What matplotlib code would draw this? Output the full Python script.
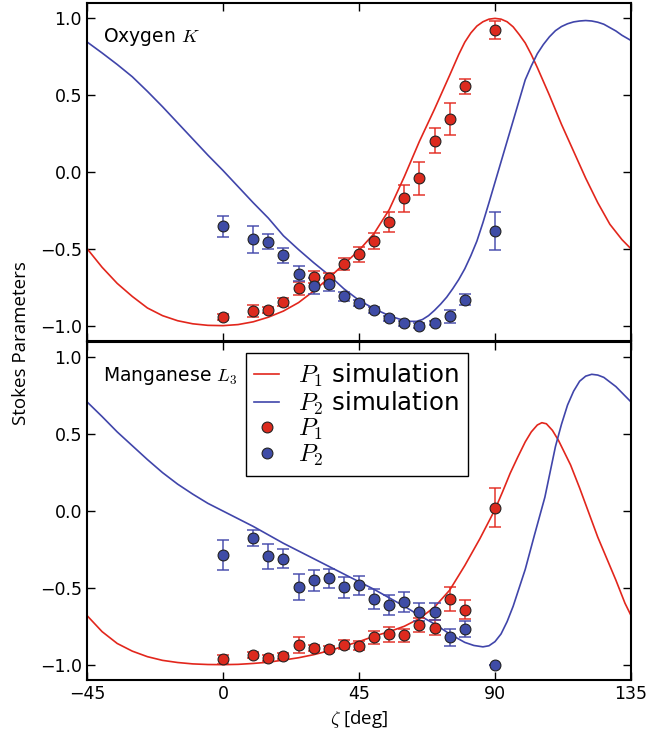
import numpy as np
import matplotlib
matplotlib.use("Agg")
from matplotlib import pyplot as plt

plt.rcParams['mathtext.fontset'] = 'cm'
plt.rcParams['font.family'] = ['DejaVu Sans']

# measured angles (deg)
zeta_data = [0, 10, 15, 20, 25, 30, 35, 40, 45, 50, 55, 60, 65, 70, 75, 80, 90]

# Oxygen K measurements
oxy_p1 = [-0.945, -0.905, -0.897, -0.845, -0.758, -0.684, -0.693, -0.60, -0.536, -0.45,
          -0.324, -0.171, -0.04, 0.204, 0.345, 0.558, 0.923]
oxy_p1_err = [0.02, 0.04, 0.02, 0.025, 0.045, 0.04, 0.035, 0.04, 0.05, 0.05,
              0.064, 0.088, 0.108, 0.08, 0.105, 0.05, 0.06]
oxy_p2 = [-0.352, -0.439, -0.454, -0.543, -0.662, -0.743, -0.732, -0.81, -0.853, -0.90,
          -0.953, -0.985, -1.0, -0.984, -0.94, -0.832, -0.385]
oxy_p2_err = [0.068, 0.085, 0.05, 0.05, 0.05, 0.05, 0.04, 0.03, 0.02, 0.02,
              0.015, 0.015, 0.015, 0.015, 0.04, 0.035, 0.125]

# Manganese L3 measurements
mn_p1 = [-0.964, -0.9375, -0.959, -0.942, -0.872, -0.894, -0.90, -0.87, -0.877, -0.823,
         -0.803, -0.81, -0.742, -0.76, -0.573, -0.642, 0.02]
mn_p1_err = [0.03, 0.02, 0.02, 0.02, 0.05, 0.02, 0.02, 0.03, 0.03, 0.045,
             0.05, 0.04, 0.048, 0.048, 0.078, 0.06, 0.127]
mn_p2 = [-0.286, -0.176, -0.295, -0.31, -0.495, -0.451, -0.438, -0.495, -0.484, -0.573,
         -0.61, -0.592, -0.657, -0.655, -0.823, -0.77, -1.003]
mn_p2_err = [0.097, 0.05, 0.083, 0.062, 0.087, 0.067, 0.062, 0.068, 0.062, 0.066,
             0.066, 0.064, 0.056, 0.055, 0.056, 0.052, 0.0]

# simulation curves
oxy_sim1_zeta = [-45, -40, -35, -30, -25, -20, -15, -10, -5, 0, 5, 10, 15, 20, 25, 30, 35, 40,
                 45, 50, 55, 60, 65, 70, 75, 78, 80, 82, 84, 86, 88, 90, 92, 94, 96, 98, 100,
                 102, 104, 108, 112, 116, 120, 124, 128, 132, 135]
oxy_sim1 = [-0.498, -0.62, -0.725, -0.81, -0.885, -0.935, -0.968, -0.988, -0.998, -1.0,
            -0.993, -0.975, -0.945, -0.905, -0.85, -0.775, -0.69, -0.60, -0.51, -0.40,
            -0.245, -0.03, 0.2, 0.41, 0.63, 0.765, 0.845, 0.905, 0.95, 0.978, 0.995, 1.0,
            0.995, 0.978, 0.945, 0.895, 0.84, 0.765, 0.68, 0.50, 0.31, 0.135, -0.04, -0.2,
            -0.34, -0.44, -0.5]
oxy_sim2_zeta = [-45, -40, -35, -30, -25, -20, -15, -10, -5, 0, 5, 10, 15, 20, 25, 30, 35, 40,
                 45, 50, 55, 58, 60, 62, 64, 66, 68, 70, 72, 74, 76, 78, 80, 82, 84, 86, 88,
                 91, 94, 97, 100, 102, 104, 106, 108, 110, 112, 114, 116, 118, 120, 122, 124,
                 126, 128, 130, 132, 135]
oxy_sim2 = [0.847, 0.775, 0.70, 0.62, 0.525, 0.425, 0.32, 0.215, 0.11, 0.01, -0.095, -0.2,
            -0.3, -0.415, -0.505, -0.59, -0.67, -0.76, -0.835, -0.89, -0.935, -0.955, -0.965,
            -0.972, -0.972, -0.96, -0.935, -0.9, -0.86, -0.815, -0.76, -0.70, -0.63, -0.545,
            -0.45, -0.33, -0.2, 0.0, 0.2, 0.4, 0.6, 0.69, 0.77, 0.83, 0.88, 0.92, 0.947,
            0.965, 0.977, 0.983, 0.986, 0.983, 0.975, 0.962, 0.94, 0.918, 0.89, 0.856]

mn_sim1_zeta = [-45, -40, -35, -30, -25, -20, -15, -10, -5, 0, 5, 10, 15, 20, 25, 30, 35, 40,
                45, 50, 55, 60, 65, 70, 75, 80, 85, 90, 92.5, 95, 97.5, 100, 102, 104, 105.5,
                107, 109, 111, 113, 115, 118, 121, 124, 127, 130, 133, 135]
mn_sim1 = [-0.68, -0.785, -0.862, -0.912, -0.948, -0.972, -0.986, -0.995, -0.999, -1.0,
           -0.998, -0.992, -0.984, -0.97, -0.955, -0.935, -0.91, -0.88, -0.85, -0.815,
           -0.785, -0.75, -0.70, -0.625, -0.515, -0.355, -0.18, 0.01, 0.125, 0.245, 0.35,
           0.45, 0.515, 0.56, 0.575, 0.568, 0.525, 0.46, 0.38, 0.3, 0.15, -0.01, -0.17,
           -0.31, -0.45, -0.6, -0.68]
mn_sim2_zeta = [-45, -40, -35, -30, -25, -20, -15, -10, -5, 0, 5, 10, 15, 20, 25, 30, 35, 40,
                45, 50, 55, 60, 65, 70, 75, 80, 83, 86, 88, 90, 92, 94, 96, 98, 100, 103,
                106.5, 110, 112, 114, 116, 118, 120, 122, 124, 126, 130, 135]
mn_sim2 = [0.711, 0.615, 0.515, 0.425, 0.335, 0.25, 0.175, 0.11, 0.05, 0.0, -0.05, -0.1,
           -0.155, -0.21, -0.26, -0.31, -0.36, -0.41, -0.46, -0.51, -0.565, -0.62, -0.68,
           -0.735, -0.8, -0.855, -0.875, -0.884, -0.877, -0.85, -0.8, -0.72, -0.62, -0.5,
           -0.38, -0.16, 0.09, 0.42, 0.565, 0.69, 0.78, 0.845, 0.878, 0.89, 0.885, 0.87,
           0.81, 0.71]

RED = '#e2261c'
BLUE = '#4045aa'
RED_PT = '#dc2a1e'
BLUE_PT = '#3f4ca6'

fig = plt.figure(figsize=(6.51, 7.37), dpi=100)
ax1 = fig.add_axes([0.1336, 0.5373, 0.8357, 0.4586])
ax2 = fig.add_axes([0.1336, 0.0773, 0.8357, 0.4586], sharex=ax1)

panels = [
    (ax1, oxy_sim1_zeta, oxy_sim1, oxy_sim2_zeta, oxy_sim2, oxy_p1, oxy_p1_err, oxy_p2, oxy_p2_err,
     'Oxygen $K$'),
    (ax2, mn_sim1_zeta, mn_sim1, mn_sim2_zeta, mn_sim2, mn_p1, mn_p1_err, mn_p2, mn_p2_err,
     'Manganese $L_3$'),
]

for ax, z1, s1, z2, s2, p1, e1, p2, e2, name in panels:
    l1, = ax.plot(z1, s1, color=RED, lw=1.2, label='$P_1$ simulation')
    l2, = ax.plot(z2, s2, color=BLUE, lw=1.2, label='$P_2$ simulation')
    ax.errorbar(zeta_data, p1, yerr=e1, fmt='none', ecolor=RED, elinewidth=1.2,
                capsize=4, capthick=1.2, alpha=0.85)
    ax.errorbar(zeta_data, p2, yerr=e2, fmt='none', ecolor=BLUE, elinewidth=1.2,
                capsize=4, capthick=1.2, alpha=0.85)
    m1, = ax.plot(zeta_data, p1, 'o', ms=7.8, mfc=RED_PT, mec='#222222', mew=0.8,
                  label='$P_1$', zorder=5)
    m2, = ax.plot(zeta_data, p2, 'o', ms=7.8, mfc=BLUE_PT, mec='#222222', mew=0.8,
                  label='$P_2$', zorder=5)
    ax.text(0.03, 0.9, name, transform=ax.transAxes, fontsize=13.5, va='center')

    ax.set_xlim(-45, 135)
    ax.set_ylim(-1.1, 1.1)
    ax.set_yticks([-1.0, -0.5, 0.0, 0.5, 1.0])
    ax.tick_params(direction='in', top=True, right=True, length=6, width=1, labelsize=12.5)
    for sp in ax.spines.values():
        sp.set_linewidth(1.5)

ax1.set_xticks([-45, 0, 45, 90, 135])
ax1.tick_params(labelbottom=False)

leg = ax2.legend([l1, l2, m1, m2], ['$P_1$ simulation', '$P_2$ simulation', '$P_1$', '$P_2$'],
                 loc='upper left', bbox_to_anchor=(0.292, 0.967), borderaxespad=0,
                 fontsize=17.6, numpoints=1, handlelength=1.0, handletextpad=0.8,
                 labelspacing=0.02, borderpad=0.35, fancybox=False, framealpha=1.0,
                 edgecolor='black')
leg.get_frame().set_linewidth(1.0)
leg.set_zorder(10)

ax2.set_xlabel(r'$\zeta$ [deg]', fontsize=13.5, family='Open Sans', labelpad=4)
fig.text(0.032, 0.535, 'Stokes Parameters', rotation=90, fontsize=13.5, family='Open Sans',
         va='center', ha='center')

fig.savefig('out.png', dpi=100)
